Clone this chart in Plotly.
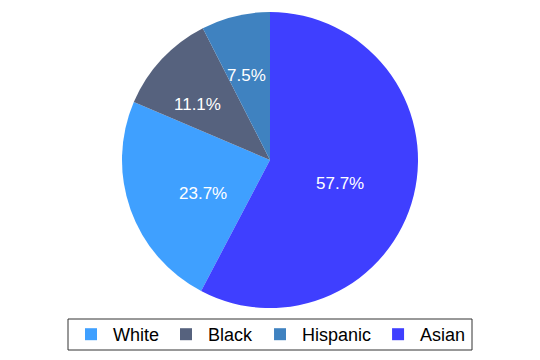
import math
import plotly.graph_objects as go

labels = ["White", "Black", "Hispanic", "Asian"]
shares = [23.7, 11.1, 7.5, 57.7]
colors = ["#3fa0ff", "#56627e", "#3f82c0", "#3f3fff"]

W, H = 540, 360
dom_y = [52 / H, 348 / H]

# White の開始角度（Asian が12時から時計回りに始まるように）
total = sum(shares)
start = 360 * shares[3] / total

fig = go.Figure(go.Pie(
    labels=labels,
    values=shares,
    sort=False,
    direction="clockwise",
    rotation=start,
    marker=dict(colors=colors, line=dict(width=0)),
    textinfo="none",
    hoverinfo="label+percent",
    domain=dict(x=[0, 1], y=dom_y),
))

# ラベルは半径の2/3の位置に置く
r = (dom_y[1] - dom_y[0]) * H / 2
cx, cy = W / 2, (dom_y[0] + dom_y[1]) / 2 * H
ang = start
for lab, v in zip(labels, shares):
    mid = math.radians(ang + 360 * v / total / 2)
    ang += 360 * v / total
    fig.add_annotation(
        x=(cx + 0.667 * r * math.sin(mid)) / W,
        y=(cy + 0.667 * r * math.cos(mid)) / H,
        xref="paper", yref="paper", showarrow=False,
        text=f"{v:.1f}%", font=dict(color="white", size=17),
    )

fig.add_shape(type="rect", xref="paper", yref="paper",
              x0=68 / W, x1=472 / W, y0=10 / H, y1=41 / H,
              line=dict(color="#333", width=1))

fig.update_layout(
    width=W, height=H,
    margin=dict(l=0, r=0, t=0, b=0),
    paper_bgcolor="white",
    font=dict(family="Liberation Sans", size=18, color="black"),
    legend=dict(
        orientation="h", x=0.5, xanchor="center", y=25.5 / H, yanchor="middle",
        borderwidth=0, traceorder="normal", bgcolor="rgba(0,0,0,0)",
        itemwidth=34, font=dict(size=18),
    ),
)

fig.write_html("out.html", config={"displayModeBar": False},
               post_script="document.body.style.margin='0';")
